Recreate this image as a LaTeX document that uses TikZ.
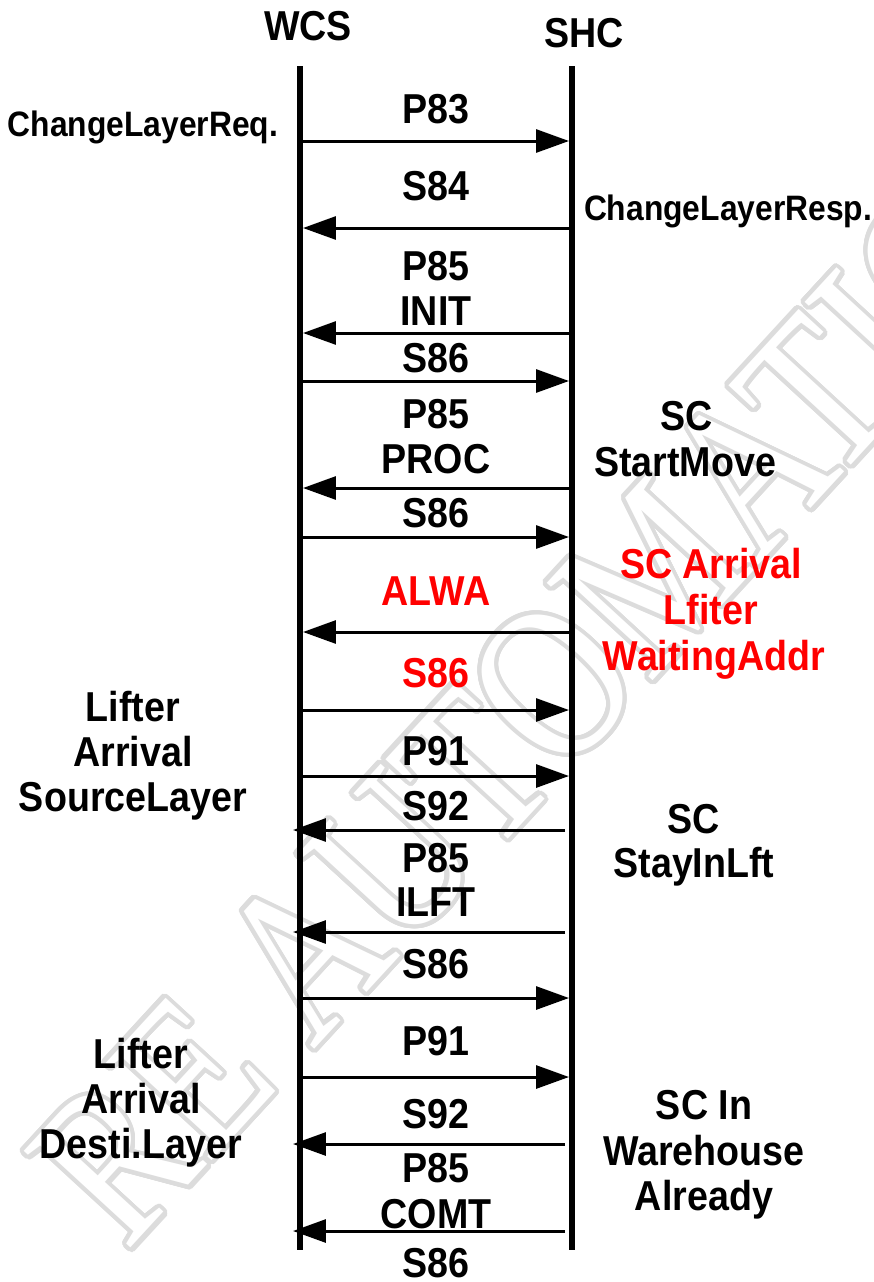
\documentclass[tikz,border=0pt]{standalone}
\usepackage{fontspec}
\setmainfont{Liberation Sans}[FakeStretch=0.9]
\newfontfamily\wmfont{Liberation Serif}
\usepackage[copies]{contour}
\usetikzlibrary{arrows.meta}
\definecolor{msgred}{HTML}{FF0000}
\definecolor{wmgray}{HTML}{DCDCDC}
\contourlength{2.6pt}
\contournumber{32}
\begin{document}
\begin{tikzpicture}[x=0.02cm,y=-0.02cm,
  lifeline/.style={line width=3.4pt},
  msg/.style={line width=1.7pt,-{Triangle[length=0.66cm,width=0.46cm]}},
  lab/.style={font=\fontsize{23.8}{28}\selectfont\bfseries,inner sep=0pt,anchor=base},
  side/.style={font=\fontsize{20.1}{24}\selectfont\bfseries,inner sep=0pt,anchor=base},
  hot/.style={text=msgred}]
\useasboundingbox (0,0) rectangle (874,1282);
% watermark
\begin{scope}
\clip (0,0) rectangle (874,1282);
\node[rotate=47.4, font=\wmfont\fontsize{125}{125}\selectfont, inner sep=0pt] (wm) at (530,712) {\scalebox{0.82}[1]{\contour{wmgray}{\color{white}RE AUTOMATIO}}};
\end{scope}
% heads and lifelines
\node[lab] (wcs) at (308,40) {WCS};
\node[lab] (shc) at (584,47) {SHC};
\coordinate (wtop) at (300,66); \coordinate (wbot) at (300,1250);
\coordinate (stop) at (572,66); \coordinate (sbot) at (572,1250);
\draw[lifeline] (wtop) -- (wbot);
\draw[lifeline] (stop) -- (sbot);
% right arrows WCS -> SHC
\foreach \n/\y in {r1/141,r2/381,r3/537,r4/710,r5/776,r6/998,r7/1077}{
  \coordinate (\n w) at (300,\y);
  \coordinate (\n s) at (569,\y);
  \draw[msg] (\n w) -- (\n s);
}
% left arrows SHC -> WCS
\foreach \n/\y in {l1/228,l2/333,l3/488,l4/632}{
  \coordinate (\n s) at (572,\y);
  \coordinate (\n w) at (303,\y);
  \draw[msg] (\n s) -- (\n w);
}
\foreach \n/\y in {m1/830,m2/932,m3/1144,m4/1231}{
  \coordinate (\n s) at (565,\y);
  \coordinate (\n w) at (293,\y);
  \draw[msg] (\n s) -- (\n w);
}
% message labels
\node[lab] (t1) at (436,123) {P83};
\node[lab] (t2) at (436,200) {S84};
\node[lab] (t3) at (436,280) {P85};
\node[lab] (t4) at (436,325) {INIT};
\node[lab] (t5) at (436,372) {S86};
\node[lab] (t6) at (436,428) {P85};
\node[lab] (t7) at (436,473) {PROC};
\node[lab] (t8) at (436,527) {S86};
\node[lab,hot] (t9) at (436,605) {ALWA};
\node[lab,hot] (t10) at (436,687) {S86};
\node[lab] (t11) at (436,765) {P91};
\node[lab] (t12) at (436,820) {S92};
\node[lab] (t13) at (436,872) {P85};
\node[lab] (t14) at (436,916) {ILFT};
\node[lab] (t15) at (436,978) {S86};
\node[lab] (t16) at (436,1055) {P91};
\node[lab] (t17) at (436,1128) {S92};
\node[lab] (t18) at (436,1182) {P85};
\node[lab] (t19) at (436,1228) {COMT};
\node[lab] (t20) at (436,1277) {S86};
% side notes
\node[side] (req) at (143,136) {ChangeLayerReq.};
\node[side] (resp) at (728,220) {ChangeLayerResp.};
\node[lab] (sm1) at (687,430) {SC};
\node[lab] (sm2) at (685,476) {StartMove};
\node[lab,hot] (wa1) at (711,578) {SC Arrival};
\node[lab,hot] (wa2) at (711,624) {Lfiter};
\node[lab,hot] (wa3) at (714,670) {WaitingAddr};
\node[lab] (ls1) at (133,721) {Lifter};
\node[lab] (ls2) at (133,766) {Arrival};
\node[lab] (ls3) at (133,811) {SourceLayer};
\node[lab] (st1) at (694,833) {SC};
\node[lab] (st2) at (694,877) {StayInLft};
\node[lab] (ld1) at (141,1068) {Lifter};
\node[lab] (ld2) at (141,1113) {Arrival};
\node[lab] (ld3) at (141,1158) {Desti.Layer};
\node[lab] (wh1) at (704,1119) {SC In};
\node[lab] (wh2) at (704,1165) {Warehouse};
\node[lab] (wh3) at (704,1210) {Already};
\end{tikzpicture}
\end{document}
